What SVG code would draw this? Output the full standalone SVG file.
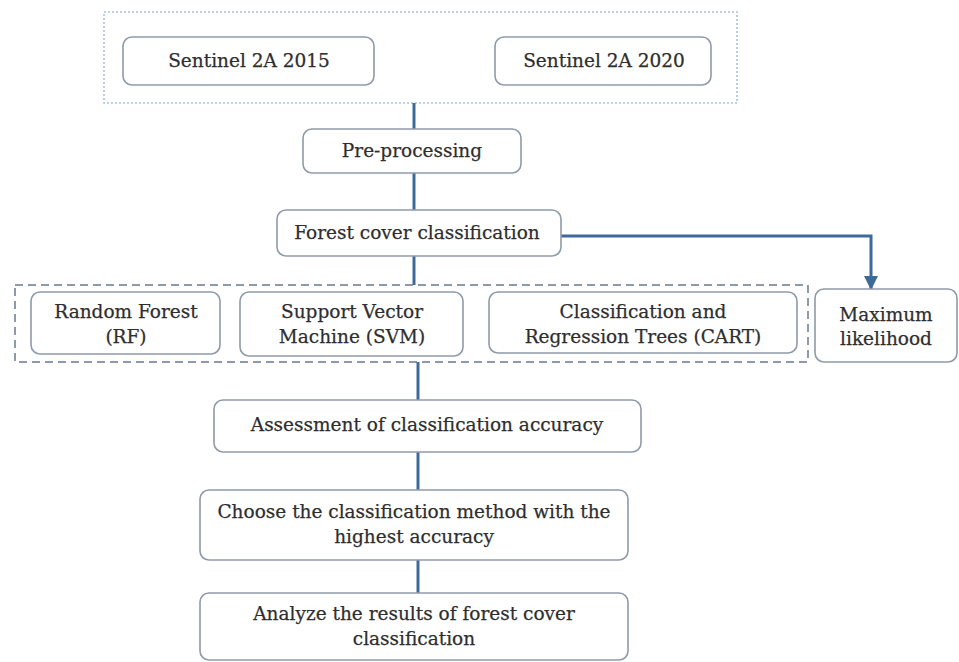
<svg xmlns="http://www.w3.org/2000/svg" width="959" height="662" viewBox="0 0 959 662">
<style>
.box{fill:#fff;stroke:#8e9aaa;stroke-width:1.6}
.t{font-family:'DejaVu Serif',serif;font-size:18.5px;fill:#2e2e2e;text-anchor:middle;stroke:#2e2e2e;stroke-width:0.25}
.c{fill:none;stroke:#3e6a9a;stroke-width:3}
</style>
<defs>
<marker id="ah" markerWidth="14" markerHeight="14" refX="13" refY="7" orient="auto" markerUnits="userSpaceOnUse">
<path d="M0,0 L14,7 L0,14 z" fill="#3e6a9a"/>
</marker>
</defs>
<rect width="959" height="662" fill="#fff"/>
<g id="input-group">
<rect x="104" y="12" width="633" height="91" fill="#fff" stroke="#a9c2df" stroke-width="1.6" stroke-dasharray="2,2"/>
</g>
<g id="methods-group">
<rect x="15" y="285" width="793" height="77" fill="none" stroke="#8e9aaa" stroke-width="2" stroke-dasharray="8,5"/>
</g>
<g id="connectors">
<line class="c" x1="414" y1="103" x2="414" y2="129"/>
<line class="c" x1="414" y1="173" x2="414" y2="210"/>
<line class="c" x1="414" y1="256" x2="414" y2="285"/>
<path class="c" d="M561,236 H871 V289" stroke-width="2.5" marker-end="url(#ah)"/>
<line class="c" x1="418" y1="362" x2="418" y2="400"/>
<line class="c" x1="418" y1="452" x2="418" y2="490"/>
<line class="c" x1="418" y1="560" x2="418" y2="593"/>
</g>
<g id="sentinel2015">
<rect class="box" x="123" y="37" width="251" height="48" rx="9"/>
<text class="t" x="249" y="67">Sentinel 2A 2015</text>
</g>
<g id="sentinel2020">
<rect class="box" x="495" y="37" width="216" height="48" rx="9"/>
<text class="t" x="604" y="67">Sentinel 2A 2020</text>
</g>
<g id="preprocessing">
<rect class="box" x="303" y="129" width="218" height="44" rx="9"/>
<text class="t" x="412" y="157">Pre-processing</text>
</g>
<g id="forest-cover">
<rect class="box" x="277" y="210" width="284" height="46" rx="9"/>
<text class="t" x="417" y="239">Forest cover classification</text>
</g>
<g id="rf">
<rect class="box" x="31" y="292" width="189" height="62" rx="9"/>
<text class="t" x="126" y="318">Random Forest</text>
<text class="t" x="126" y="343">(RF)</text>
</g>
<g id="svm">
<rect class="box" x="240" y="292" width="223" height="64" rx="9"/>
<text class="t" x="352" y="318">Support Vector</text>
<text class="t" x="352" y="343">Machine (SVM)</text>
</g>
<g id="cart">
<rect class="box" x="489" y="292" width="308" height="61" rx="9"/>
<text class="t" x="643" y="318">Classification and</text>
<text class="t" x="643" y="343">Regression Trees (CART)</text>
</g>
<g id="maxlik">
<rect class="box" x="815" y="289" width="142" height="73" rx="9"/>
<text class="t" x="886" y="321">Maximum</text>
<text class="t" x="886" y="345">likelihood</text>
</g>
<g id="assessment">
<rect class="box" x="214" y="400" width="427" height="52" rx="9"/>
<text class="t" x="427" y="431">Assessment of classification accuracy</text>
</g>
<g id="choose">
<rect class="box" x="200" y="490" width="428" height="70" rx="9"/>
<text class="t" x="414" y="518">Choose the classification method with the</text>
<text class="t" x="414" y="543">highest accuracy</text>
</g>
<g id="analyze">
<rect class="box" x="200" y="593" width="428" height="67" rx="9"/>
<text class="t" x="414" y="620">Analyze the results of forest cover</text>
<text class="t" x="414" y="645">classification</text>
</g>
</svg>
